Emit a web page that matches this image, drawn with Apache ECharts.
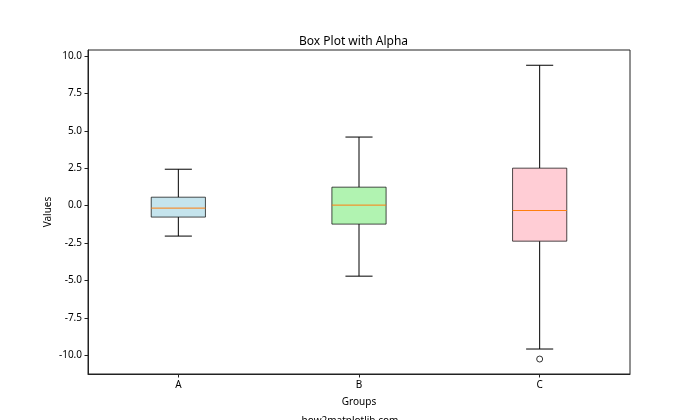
<!DOCTYPE html>
<html>
<head>
<meta charset="utf-8">
<script src="https://cdn.jsdelivr.net/npm/echarts@6/dist/echarts.min.js"></script>
<style>html,body{margin:0;padding:0;background:#fff}#c{width:700px;height:420px}</style>
</head>
<body>
<div id="c"></div>
<script>
const categories = ['A', 'B', 'C'];
const lowWhisker = [-2.04, -4.72, -9.59];
const q1 = [-0.77, -1.24, -2.38];
const median = [-0.17, 0.03, -0.33];
const q3 = [0.56, 1.23, 2.50];
const highWhisker = [2.43, 4.58, 9.38];
const outliers = [['C', -10.26]];
const yTicks = [-10, -7.5, -5, -2.5, 0, 2.5, 5, 7.5, 10];
const boxColors = ['rgba(173,216,230,0.7)', 'rgba(144,238,144,0.7)', 'rgba(255,192,203,0.8)'];

const FONT = 'Noto Sans';
const boxData = categories.map((c, i) => [i, lowWhisker[i], q1[i], median[i], q3[i], highWhisker[i]]);

function renderBox(params, api) {
  const x = api.value(0);
  const band = api.size([1, 0])[0];
  const bw = band * 0.3;
  const cw = bw / 2;
  const pLow = api.coord([x, api.value(1)]);
  const pQ1 = api.coord([x, api.value(2)]);
  const pMed = api.coord([x, api.value(3)]);
  const pQ3 = api.coord([x, api.value(4)]);
  const pHigh = api.coord([x, api.value(5)]);
  const cx = pMed[0];
  const black = {stroke: '#000', lineWidth: 1};
  return {
    type: 'group',
    children: [
      {type: 'line', shape: {x1: cx, y1: pQ1[1], x2: cx, y2: pLow[1]}, style: black},
      {type: 'line', shape: {x1: cx, y1: pQ3[1], x2: cx, y2: pHigh[1]}, style: black},
      {type: 'line', shape: {x1: cx - cw / 2, y1: pLow[1], x2: cx + cw / 2, y2: pLow[1]}, style: black},
      {type: 'line', shape: {x1: cx - cw / 2, y1: pHigh[1], x2: cx + cw / 2, y2: pHigh[1]}, style: black},
      {type: 'rect', shape: {x: cx - bw / 2, y: pQ3[1], width: bw, height: pQ1[1] - pQ3[1]},
        style: {fill: boxColors[params.dataIndex], stroke: 'rgba(0,0,0,0.7)', lineWidth: 1}},
      {type: 'line', shape: {x1: cx - bw / 2, y1: pMed[1], x2: cx + bw / 2, y2: pMed[1]},
        style: {stroke: '#ff7f0e', lineWidth: 1}}
    ]
  };
}

const chart = echarts.init(document.getElementById('c'), null, {renderer: 'canvas'});
chart.setOption({
  animation: false,
  backgroundColor: '#fff',
  textStyle: {fontFamily: FONT},
  grid: {left: 88, right: 70, top: 50, bottom: 46, show: true, borderColor: '#222', borderWidth: 1, containLabel: false},
  xAxis: {
    type: 'category',
    data: categories,
    boundaryGap: true,
    name: 'Groups',
    nameLocation: 'middle',
    nameGap: 23,
    nameMoveOverlap: false,
    nameTextStyle: {fontSize: 10, color: '#000', fontFamily: FONT},
    axisLine: {show: true, onZero: false, lineStyle: {color: '#222', width: 1}},
    axisTick: {show: true, alignWithLabel: true, length: 3.5, lineStyle: {color: '#222'}},
    axisLabel: {fontSize: 10, color: '#000', margin: 6, fontFamily: FONT},
    splitLine: {show: false}
  },
  yAxis: {
    type: 'value',
    min: -11.26,
    max: 10.40,
    name: 'Values',
    nameLocation: 'middle',
    nameGap: 35,
    nameMoveOverlap: false,
    nameTextStyle: {fontSize: 10, color: '#000', fontFamily: FONT},
    axisLine: {show: true, onZero: false, lineStyle: {color: '#222', width: 1}},
    axisTick: {show: true, length: 3.5, lineStyle: {color: '#222'}, customValues: yTicks},
    axisLabel: {fontSize: 10, color: '#000', margin: 6, fontFamily: FONT, customValues: yTicks,
      formatter: v => v.toFixed(1)},
    splitLine: {show: false}
  },
  graphic: [
    {type: 'text', left: 359 - 60, top: 36, style: {text: 'Box Plot with Alpha', fontSize: 12, fill: '#000', fontFamily: FONT, width: 120, align: 'center'}},
    {type: 'text', top: 416, left: 'center', style: {text: 'how2matplotlib.com', fontSize: 10, fill: '#000', fontFamily: FONT}}
  ],
  series: [
    {type: 'custom', renderItem: renderBox, data: boxData, encode: {x: 0, y: [1, 2, 3, 4, 5]}, z: 3},
    {type: 'scatter', data: outliers, symbol: 'circle', symbolSize: 6,
      itemStyle: {color: '#fff', borderColor: '#000', borderWidth: 1}, z: 4}
  ]
});
</script>
</body>
</html>
